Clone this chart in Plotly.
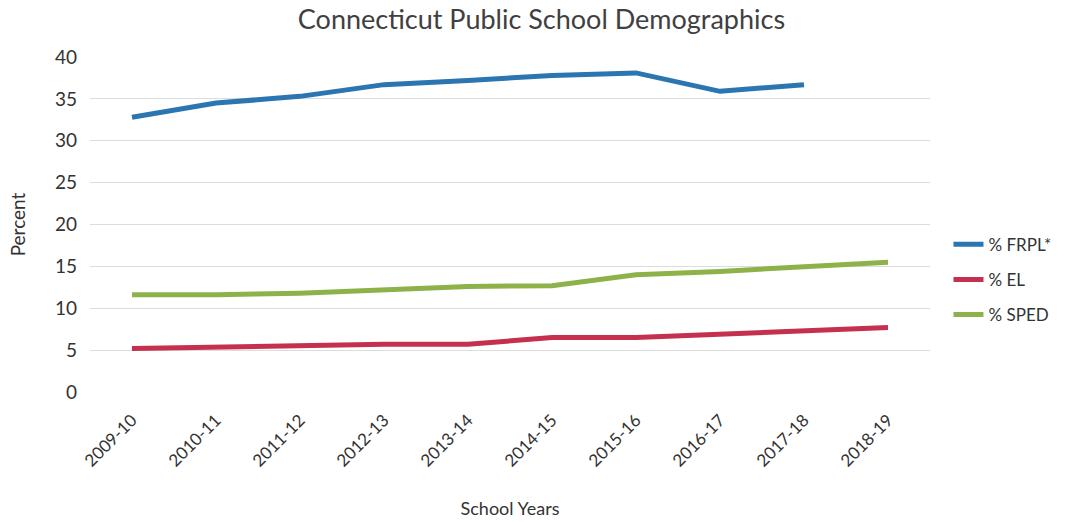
import plotly.graph_objects as go

# School years on the category axis
years = ["2009-10", "2010-11", "2011-12", "2012-13", "2013-14",
         "2014-15", "2015-16", "2016-17", "2017-18", "2018-19"]

# Percent of students in each group (FRPL not yet reported for 2018-19)
frpl = [32.8, 34.5, 35.3, 36.7, 37.2, 37.8, 38.1, 35.9, 36.7, None]
el = [5.2, 5.4, 5.5, 5.7, 5.7, 6.5, 6.5, 6.9, 7.3, 7.7]
sped = [11.6, 11.6, 11.8, 12.2, 12.6, 12.7, 14.0, 14.4, 15.0, 15.5]

series_names = ["% FRPL*", "% EL", "% SPED"]
series_colors = ["#2b76b0", "#c4304e", "#8db24a"]

FONT = "Lato, 'Open Sans', sans-serif"

fig = go.Figure()
for name, values, color in zip(series_names, [frpl, el, sped], series_colors):
    fig.add_trace(go.Scatter(
        x=years, y=values, name=name, mode="lines",
        line=dict(color=color, width=5),
        connectgaps=False, legendgroup=name,
    ))

fig.update_layout(
    width=1068, height=523,
    margin=dict(l=90, r=138, t=57, b=131, autoexpand=False),
    paper_bgcolor="white", plot_bgcolor="white",
    font=dict(family=FONT, color="#404040"),
    title=dict(text="Connecticut Public School Demographics",
               x=0.507, xanchor="center", y=0.962, yanchor="middle",
               font=dict(size=27, color="#404040")),
    showlegend=True,
    legend=dict(x=1.022, xanchor="left", y=0.335, yanchor="middle",
                font=dict(size=17, color="#333333"),
                itemwidth=30, traceorder="grouped", tracegroupgap=10,
                bgcolor="rgba(0,0,0,0)"),
    xaxis=dict(
        type="category", range=[-0.5, 9.5], automargin=False,
        tickangle=-45, showgrid=False, showline=False, zeroline=False,
        ticks="", tickfont=dict(size=17, color="#333333"),
        ticklabelstandoff=14,
        title=dict(text="School Years", font=dict(size=18, color="#333333"),
                   standoff=32),
    ),
    yaxis=dict(
        range=[0, 40], dtick=5, showgrid=True, gridcolor="#dcdcdc",
        gridwidth=1, zeroline=False, showline=False, ticks="",
        automargin=False,
        tickfont=dict(size=19, color="#333333"), ticklabelstandoff=12,
        title=dict(text="Percent", font=dict(size=19, color="#333333"),
                   standoff=24),
    ),
)

fig.write_html("out.html")
